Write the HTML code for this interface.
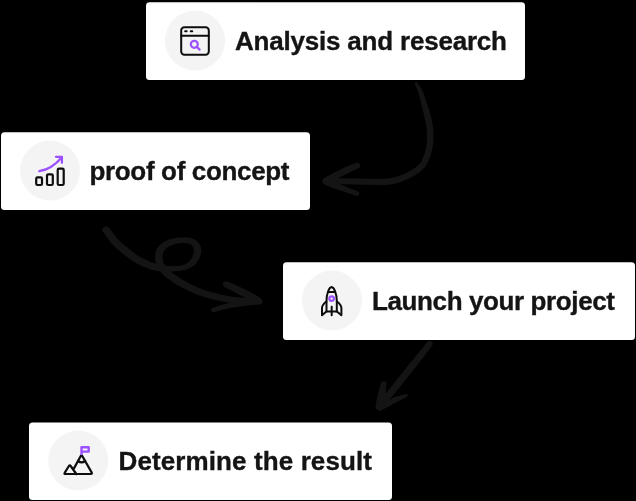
<!DOCTYPE html>
<html>
<head>
<meta charset="utf-8">
<style>
html,body{margin:0;padding:0;background:#000;width:636px;height:501px;overflow:hidden}
svg{display:block;will-change:transform}
text{font-family:"Liberation Sans",sans-serif;font-weight:bold;font-size:26px;fill:#141414;stroke:#141414;stroke-width:0.35}
.ic{fill:none;stroke:#0d0d0d;stroke-width:2;stroke-linecap:round;stroke-linejoin:round}
.pu{fill:none;stroke:#9d50ff;stroke-width:2;stroke-linecap:round;stroke-linejoin:round}
.ar{fill:none;stroke:#141414;stroke-width:6;stroke-linecap:round;stroke-linejoin:round}
</style>
</head>
<body>
<svg width="636" height="501" viewBox="0 0 636 501">
  <!-- arrows -->
  <g fill="#141414">
    <path d="M414.8 84.1L415.2 85.2L415.7 86.3L416.2 87.4L416.7 88.5L417.2 89.6L417.6 90.6L418.0 91.7L418.4 92.8L418.7 94.0L419.1 95.2L419.5 96.5L419.8 97.9L420.1 99.2L420.5 100.6L420.8 101.9L421.1 103.3L421.4 104.5L421.7 105.7L422.0 106.9L422.3 108.1L422.6 109.3L422.9 110.5L423.2 111.7L423.5 113.0L423.8 114.4L424.2 115.8L424.6 117.3L424.9 118.7L425.3 120.2L425.6 121.7L425.9 123.1L426.1 124.5L426.3 125.9L426.5 127.4L426.6 128.9L426.7 130.4L426.8 132.0L426.9 133.4L426.9 134.8L427.0 136.1L427.0 137.3L427.0 138.3L427.0 139.2L427.0 140.0L427.0 140.8L426.9 141.7L426.9 142.6L426.7 143.6L426.6 144.7L426.4 145.8L426.3 147.0L426.1 148.1L425.8 149.3L425.5 150.5L425.2 151.7L424.8 153.0L424.3 154.4L423.7 155.8L423.2 157.3L422.6 158.8L421.9 160.2L421.2 161.5L420.4 162.8L419.4 163.9L418.3 165.1L416.9 166.3L415.5 167.4L413.9 168.6L412.1 169.7L410.4 170.7L408.5 171.8L406.6 172.7L404.7 173.6L402.7 174.5L400.7 175.3L398.7 176.1L396.5 176.8L394.3 177.4L392.0 177.9L389.6 178.3L387.0 178.6L384.2 178.8L381.2 178.9L378.1 178.9L375.0 178.9L371.7 178.8L368.5 178.7L365.3 178.7L362.1 178.7L358.8 178.6L355.4 178.6L352.1 178.5L348.8 178.5L345.6 178.4L342.7 178.3L340.0 178.3L337.7 178.3L335.7 178.2L333.9 178.2L332.3 178.2L330.8 178.2L329.2 178.1L327.7 178.1L326.0 178.1A3.00 3.00 0 0 0 326.0 184.1L327.7 184.1L329.2 184.1L330.7 184.1L332.3 184.1L333.9 184.1L335.7 184.1L337.7 184.1L340.0 184.1L342.6 184.2L345.5 184.2L348.6 184.3L351.9 184.4L355.3 184.5L358.7 184.6L362.1 184.7L365.3 184.7L368.4 184.8L371.6 184.8L374.8 184.9L378.1 185.0L381.3 185.0L384.4 185.0L387.5 184.8L390.4 184.5L393.2 184.0L395.8 183.4L398.3 182.7L400.7 182.0L403.0 181.1L405.2 180.2L407.3 179.3L409.4 178.3L411.4 177.2L413.5 176.1L415.4 174.9L417.3 173.7L419.2 172.4L420.9 171.0L422.5 169.6L424.0 168.1L425.3 166.5L426.5 164.7L427.4 163.0L428.3 161.3L429.0 159.6L429.6 158.0L430.1 156.5L430.6 155.0L431.1 153.6L431.6 152.1L431.9 150.7L432.2 149.4L432.5 148.0L432.7 146.8L432.9 145.6L433.1 144.4L433.2 143.3L433.3 142.2L433.4 141.2L433.5 140.2L433.5 139.2L433.5 138.2L433.5 137.1L433.4 135.9L433.4 134.6L433.4 133.1L433.3 131.6L433.2 130.0L433.1 128.4L432.9 126.8L432.7 125.1L432.5 123.5L432.2 121.9L431.9 120.3L431.5 118.7L431.1 117.2L430.7 115.7L430.3 114.2L429.9 112.8L429.5 111.4L429.1 110.1L428.7 108.8L428.3 107.6L427.9 106.5L427.5 105.3L427.1 104.1L426.7 102.9L426.3 101.7L425.9 100.5L425.5 99.2L425.0 97.8L424.6 96.5L424.1 95.1L423.7 93.8L423.2 92.4L422.6 91.2L422.0 89.9L421.4 88.8L420.8 87.7L420.1 86.7L419.5 85.7L418.9 84.7L418.2 83.7L417.6 82.7A1.60 1.60 0 0 0 414.8 84.1Z"/>
    <path d="M327.7 184.1L328.9 183.4L330.2 182.7L331.4 182.0L332.6 181.3L333.8 180.6L335.1 179.9L336.3 179.2L337.6 178.5L338.9 177.8L340.2 177.1L341.6 176.4L343.0 175.7L344.4 175.0L345.7 174.3L347.1 173.6L348.4 173.0L349.7 172.4L350.9 171.8L352.1 171.2L353.4 170.6L354.6 170.0L355.8 169.4L357.1 168.9L358.3 168.3A2.90 2.90 0 0 0 356.1 162.9L354.8 163.4L353.5 163.9L352.2 164.4L350.9 164.9L349.6 165.4L348.3 165.9L347.0 166.4L345.6 167.0L344.2 167.6L342.8 168.3L341.4 169.0L340.0 169.7L338.6 170.4L337.2 171.1L335.8 171.8L334.4 172.5L333.1 173.2L331.8 173.9L330.5 174.6L329.3 175.2L328.0 175.9L326.8 176.6L325.6 177.3L324.3 177.9A3.50 3.50 0 0 0 327.7 184.1Z"/>
    <path d="M324.7 184.6L325.8 185.1L326.9 185.5L328.0 186.0L329.2 186.4L330.3 186.9L331.5 187.4L332.7 187.8L333.9 188.3L335.1 188.7L336.3 189.2L337.6 189.6L338.8 190.0L340.1 190.4L341.4 190.8L342.7 191.3L344.1 191.7L345.5 192.2L347.0 192.7L348.5 193.2L350.0 193.7L351.6 194.2L353.1 194.7L354.7 195.2L356.2 195.7A2.30 2.30 0 0 0 357.8 191.3L356.3 190.7L354.8 190.2L353.2 189.6L351.7 189.0L350.2 188.4L348.7 187.8L347.3 187.2L345.9 186.7L344.6 186.1L343.3 185.6L342.0 185.1L340.8 184.6L339.6 184.2L338.4 183.7L337.3 183.2L336.1 182.7L335.0 182.2L333.9 181.7L332.8 181.2L331.7 180.7L330.6 180.2L329.5 179.6L328.4 179.1L327.3 178.6A3.30 3.30 0 0 0 324.7 184.6Z"/>
    <path d="M103.2 232.3L103.7 232.9L104.2 233.5L104.6 234.1L105.1 234.7L105.6 235.3L106.1 235.9L106.5 236.6L107.0 237.2L107.5 237.9L108.0 238.6L108.5 239.4L109.0 240.2L109.7 241.2L110.4 242.2L111.3 243.2L112.3 244.3L113.4 245.4L114.6 246.6L115.9 247.7L117.2 248.9L118.6 250.1L119.9 251.2L121.3 252.4L122.6 253.4L123.8 254.5L125.1 255.5L126.4 256.5L127.7 257.5L129.0 258.5L130.3 259.5L131.6 260.4L133.0 261.3L134.4 262.1L135.8 262.9L137.1 263.7L138.5 264.3L139.8 265.0L141.1 265.6L142.3 266.1L143.5 266.7L144.6 267.2L145.7 267.6L146.7 268.0L147.7 268.5L148.7 268.8L149.8 269.2L150.9 269.5L152.0 269.9L153.1 270.1L154.2 270.4L155.3 270.6L156.6 270.9L157.9 271.1L159.4 271.3L161.0 271.4L162.8 271.5L164.9 271.5L167.2 271.5L169.8 271.5L172.5 271.4L175.2 271.3L177.8 271.0L180.3 270.7L182.5 270.3L184.5 269.9L186.3 269.4L188.1 268.8L189.8 268.1L191.3 267.3L192.8 266.3L194.1 265.3L195.4 264.2L196.6 262.8L197.7 261.3L198.7 259.6L199.5 257.9L200.2 256.2L200.7 254.5L201.1 252.9L201.4 251.2L201.3 249.5L201.0 247.9L200.6 246.4L199.9 245.0L199.2 243.7L198.2 242.5L197.2 241.4L196.1 240.4L194.8 239.6L193.4 239.0L192.0 238.4L190.5 238.0L188.9 237.7L187.3 237.5L185.7 237.4L184.0 237.4L182.3 237.4L180.4 237.4L178.5 237.6L176.5 237.9L174.5 238.2L172.5 238.6L170.6 239.1L168.9 239.6L167.2 240.2L165.7 241.0L164.2 241.8L162.8 242.7L161.5 243.7L160.2 244.7L159.1 245.7L158.1 246.8L157.3 248.0L156.6 249.4L156.0 250.7L155.6 252.0L155.4 253.3L155.2 254.6L155.1 255.8L155.1 257.0L155.1 258.3L155.2 259.6L155.4 261.0L155.7 262.4L156.0 263.7L156.5 265.1L157.0 266.5L157.7 267.8L158.4 269.0L159.2 270.2L160.1 271.4L161.0 272.5L162.0 273.6L163.1 274.7L164.3 275.8L165.6 276.9L166.9 278.0L168.4 279.1L170.0 280.3L171.6 281.4L173.4 282.6L175.2 283.8L177.2 285.0L179.2 286.1L181.4 287.3L183.7 288.5L186.1 289.7L188.5 290.9L191.1 292.0L193.7 293.2L196.2 294.2L198.8 295.2L201.4 296.1L204.0 296.9L206.7 297.7L209.3 298.4L211.9 299.1L214.5 299.7L216.9 300.3L219.3 300.8L221.4 301.3L223.5 301.7L225.4 302.1L227.4 302.5L229.3 302.8L231.4 303.1L233.6 303.3L236.0 303.6L238.6 303.8L241.5 303.9L244.4 304.0L247.4 304.1L250.4 304.1L253.4 304.2L256.5 304.2L259.4 304.3A2.90 2.90 0 0 0 259.6 298.5L256.7 298.4L253.6 298.2L250.6 298.1L247.6 298.0L244.6 297.8L241.8 297.7L239.1 297.5L236.6 297.2L234.3 297.0L232.3 296.7L230.3 296.4L228.5 296.1L226.7 295.7L224.9 295.3L222.9 294.9L220.7 294.4L218.4 293.8L216.0 293.2L213.5 292.6L211.0 292.0L208.5 291.2L206.0 290.5L203.6 289.7L201.2 288.8L198.8 287.9L196.4 286.8L194.0 285.7L191.6 284.6L189.2 283.4L186.9 282.2L184.8 281.0L182.8 279.9L180.9 278.8L179.1 277.7L177.4 276.5L175.9 275.4L174.4 274.3L173.0 273.2L171.6 272.2L170.4 271.1L169.3 270.2L168.3 269.2L167.4 268.4L166.6 267.5L165.9 266.7L165.3 265.9L164.8 265.1L164.3 264.2L163.9 263.4L163.5 262.5L163.2 261.6L163.0 260.6L162.8 259.7L162.7 258.8L162.6 257.9L162.5 257.0L162.5 256.1L162.6 255.2L162.7 254.4L162.8 253.7L162.9 253.0L163.2 252.4L163.5 251.8L163.9 251.2L164.4 250.5L165.1 249.7L165.9 248.9L166.8 248.1L167.7 247.3L168.8 246.6L169.9 246.0L171.1 245.4L172.4 244.9L174.0 244.4L175.7 244.0L177.4 243.6L179.2 243.3L180.9 243.0L182.5 242.9L184.0 242.8L185.3 242.9L186.5 243.2L187.7 243.4L188.8 243.8L189.8 244.2L190.7 244.6L191.4 245.1L191.9 245.6L192.4 246.1L192.8 246.7L193.2 247.3L193.5 248.0L193.7 248.7L193.8 249.4L193.9 250.1L193.8 250.8L193.8 251.7L193.6 252.8L193.3 254.0L192.9 255.3L192.4 256.6L191.9 257.8L191.3 258.9L190.6 259.8L189.8 260.7L189.0 261.6L188.1 262.4L187.0 263.1L185.9 263.8L184.6 264.5L183.1 265.0L181.5 265.5L179.6 265.8L177.4 265.9L175.0 266.0L172.4 266.0L169.8 265.9L167.4 265.8L165.1 265.7L163.2 265.5L161.6 265.3L160.3 265.1L159.1 264.9L158.1 264.6L157.1 264.3L156.1 263.9L155.1 263.5L154.0 263.1L153.0 262.8L152.0 262.5L151.2 262.2L150.3 261.8L149.4 261.5L148.5 261.1L147.6 260.6L146.5 260.1L145.4 259.6L144.2 259.0L143.0 258.4L141.8 257.8L140.5 257.2L139.3 256.5L138.2 255.8L137.0 255.1L135.9 254.3L134.7 253.5L133.5 252.6L132.3 251.6L131.1 250.6L129.9 249.6L128.7 248.6L127.4 247.6L126.1 246.5L124.8 245.4L123.5 244.3L122.2 243.2L120.9 242.1L119.7 241.0L118.7 240.0L117.7 239.1L117.0 238.3L116.3 237.5L115.8 236.8L115.2 236.0L114.7 235.2L114.2 234.4L113.6 233.6L113.0 232.8L112.4 232.0L111.8 231.3L111.3 230.7L110.8 230.1L110.3 229.5L109.8 228.9L109.3 228.3L108.8 227.7A3.60 3.60 0 0 0 103.2 232.3Z"/>
    <path d="M224.5 287.0L225.7 287.6L227.0 288.3L228.2 288.9L229.4 289.5L230.6 290.1L231.9 290.8L233.1 291.5L234.5 292.1L235.9 292.9L237.3 293.6L238.8 294.4L240.3 295.2L241.9 296.0L243.4 296.7L244.9 297.5L246.3 298.3L247.7 299.0L249.1 299.7L250.5 300.3L251.9 301.0L253.3 301.7L254.7 302.4L256.1 303.0L257.5 303.7A3.30 3.30 0 0 0 260.5 297.9L259.2 297.1L257.9 296.4L256.5 295.6L255.2 294.8L253.9 294.1L252.5 293.3L251.1 292.5L249.7 291.7L248.2 291.0L246.7 290.2L245.1 289.5L243.6 288.7L242.0 288.0L240.5 287.2L239.0 286.5L237.5 285.9L236.1 285.2L234.8 284.6L233.5 284.1L232.2 283.5L230.9 283.0L229.7 282.5L228.4 281.9L227.1 281.4A3.10 3.10 0 0 0 224.5 287.0Z"/>
    <path d="M214.1 312.2L215.8 311.7L217.4 311.2L219.0 310.8L220.7 310.3L222.3 309.8L224.0 309.4L225.7 308.9L227.6 308.5L229.6 308.1L231.8 307.7L234.1 307.4L236.4 307.0L238.8 306.7L241.1 306.3L243.3 306.0L245.4 305.8L247.3 305.5L249.1 305.3L250.8 305.1L252.5 305.0L254.2 304.8L255.8 304.7L257.5 304.6L259.3 304.4A2.80 2.80 0 0 0 258.7 298.8L257.0 299.0L255.4 299.1L253.7 299.3L252.0 299.4L250.3 299.6L248.5 299.8L246.6 300.0L244.6 300.2L242.5 300.5L240.3 300.9L237.9 301.3L235.5 301.7L233.2 302.1L230.8 302.5L228.6 303.0L226.4 303.5L224.5 304.0L222.6 304.5L220.9 305.0L219.2 305.6L217.6 306.2L216.0 306.7L214.4 307.3L212.7 307.8A2.30 2.30 0 0 0 214.1 312.2Z"/>
    <path d="M427.2 342.0L425.4 344.2L423.7 346.4L422.0 348.5L420.2 350.7L418.5 352.8L416.6 355.1L414.7 357.4L412.7 359.9L410.6 362.5L408.3 365.3L406.0 368.3L403.6 371.2L401.2 374.2L398.8 377.2L396.5 380.1L394.3 382.8L392.2 385.4L390.1 387.9L388.1 390.4L386.2 392.8L384.2 395.2L382.3 397.5L380.3 399.9L378.4 402.3A3.40 3.40 0 0 0 383.6 406.7L385.6 404.3L387.6 401.9L389.5 399.5L391.5 397.2L393.5 394.8L395.5 392.3L397.6 389.8L399.7 387.2L401.9 384.5L404.2 381.6L406.6 378.6L409.0 375.6L411.4 372.6L413.7 369.6L416.0 366.8L418.1 364.1L420.0 361.6L421.9 359.2L423.6 356.9L425.3 354.6L427.0 352.4L428.6 350.2L430.3 348.0L432.0 345.8A3.00 3.00 0 0 0 427.2 342.0Z"/>
    <path d="M380.7 383.7L380.5 384.7L380.2 385.6L380.0 386.6L379.7 387.5L379.5 388.5L379.2 389.4L378.9 390.4L378.7 391.3L378.4 392.3L378.2 393.3L378.0 394.3L377.7 395.4L377.5 396.4L377.3 397.3L377.0 398.3L376.8 399.2L376.6 400.0L376.5 400.8L376.4 401.6L376.2 402.4L376.1 403.2L375.9 404.0L375.8 404.8L375.6 405.7A3.50 3.50 0 0 0 382.4 407.3L382.6 406.6L382.9 405.8L383.1 405.0L383.4 404.3L383.6 403.4L383.9 402.6L384.2 401.8L384.4 400.8L384.6 399.9L384.8 398.9L384.9 397.9L385.1 396.8L385.3 395.8L385.4 394.7L385.6 393.7L385.7 392.7L385.8 391.7L385.9 390.6L386.0 389.6L386.1 388.7L386.2 387.7L386.3 386.7L386.4 385.7L386.5 384.7A2.90 2.90 0 0 0 380.7 383.7Z"/>
    <path d="M406.1 394.0L404.7 394.4L403.3 394.7L401.9 395.1L400.5 395.5L399.1 395.8L397.7 396.2L396.3 396.6L394.9 397.0L393.6 397.6L392.4 398.1L391.1 398.7L389.9 399.2L388.8 399.8L387.7 400.3L386.6 400.8L385.6 401.2L384.6 401.7L383.7 402.2L382.8 402.6L382.0 403.0L381.1 403.4L380.3 403.8L379.4 404.2L378.6 404.6A3.20 3.20 0 0 0 381.4 410.4L382.3 409.9L383.1 409.5L384.0 409.1L384.8 408.6L385.6 408.2L386.5 407.7L387.4 407.3L388.4 406.8L389.4 406.2L390.5 405.6L391.5 405.0L392.6 404.4L393.7 403.7L394.8 403.1L395.9 402.5L397.1 402.0L398.2 401.3L399.4 400.7L400.7 400.0L401.9 399.4L403.2 398.7L404.5 398.1L405.8 397.5L407.1 396.8A1.50 1.50 0 0 0 406.1 394.0Z"/>
  </g>

  <!-- box 1 -->
  <rect x="146" y="2.2" width="379" height="77.7" rx="3.5" fill="#fff"/>
  <circle cx="195" cy="40.6" r="30" fill="#f4f4f4"/>
  <g class="ic">
    <rect x="181.2" y="27.2" width="27.6" height="27.6" rx="3.2"/>
    <path d="M181.2 35.7 H208.8"/>
    <path d="M185.2 31.3 H186.6 M190.8 31.3 H192.2" style="stroke-width:2.1"/>
  </g>
  <g class="pu">
    <circle cx="194.3" cy="44.3" r="3.5" style="stroke-width:2.2"/>
    <path d="M196.9 46.9 L199.6 49.6" style="stroke-width:2.2"/>
  </g>
  <text x="235" y="50" textLength="272" lengthAdjust="spacing">Analysis and research</text>

  <!-- box 2 -->
  <rect x="1" y="132.2" width="309" height="77.7" rx="3.5" fill="#fff"/>
  <circle cx="50" cy="170.6" r="30" fill="#f4f4f4"/>
  <g class="ic">
    <rect x="36.2" y="177.4" width="5.8" height="7.6" rx="1.3" style="stroke-width:2.2"/>
    <rect x="47" y="174.3" width="5.8" height="10.7" rx="1.3" style="stroke-width:2.2"/>
    <rect x="57.7" y="168.7" width="6" height="16.3" rx="1.3" style="stroke-width:2.2"/>
  </g>
  <g class="pu">
    <path d="M39.3 171.2 Q52 169 61.9 157.2" style="stroke-width:2.3"/>
    <path d="M56 156.8 H61.9 V162.8" style="stroke-width:2.3"/>
  </g>
  <text x="89.5" y="180" textLength="200" lengthAdjust="spacing">proof of concept</text>

  <!-- box 3 -->
  <rect x="283" y="262.3" width="352" height="77.7" rx="3.5" fill="#fff"/>
  <circle cx="332" cy="300.6" r="30" fill="#f4f4f4"/>
  <g class="ic">
    <path d="M326.5 311.4 V301 C326.5 293.5 329.2 287.2 331.6 287 C334 287.2 336.8 293.5 336.8 301 V311.4 Z"/>
    <path d="M328.3 291.9 H335.1"/>
    <path d="M331.7 306.8 V315.2"/>
    <path d="M326.4 301.5 C323.8 303.5 322 305 322 308 V315.2 L326.4 311.4"/>
    <path d="M336.9 301.5 C339.5 303.5 341.4 305 341.4 308 V315.2 L336.9 311.4"/>
  </g>
  <g class="pu">
    <circle cx="331.6" cy="298.6" r="2.3" style="stroke-width:2.2"/>
  </g>
  <text x="372" y="310" textLength="243" lengthAdjust="spacing">Launch your project</text>

  <!-- box 4 -->
  <rect x="29" y="422.4" width="363" height="77.7" rx="3.5" fill="#fff"/>
  <circle cx="78.2" cy="460.6" r="30" fill="#f4f4f4"/>
  <g class="ic">
    <path d="M74.1 468.1 L80.6 456.2 Q81.5 454.6 82.4 456.2 L91.6 472.4 Q92.5 474 90.8 474 H65.5 Q63.8 474 64.8 472.6 L68.9 466 Q69.8 464.6 70.7 466 L76.3 474" style="stroke-width:2.2"/>
    <path d="M78 461 Q81.6 463.6 85.2 461" style="stroke-width:2.2"/>
  </g>
  <g class="pu">
    <path d="M81.5 454 V447.2 H88.7 V451.6 H81.5" style="stroke-width:2.4"/>
  </g>
  <text x="118.5" y="470" textLength="253.5" lengthAdjust="spacing">Determine the result</text>
</svg>
</body>
</html>
